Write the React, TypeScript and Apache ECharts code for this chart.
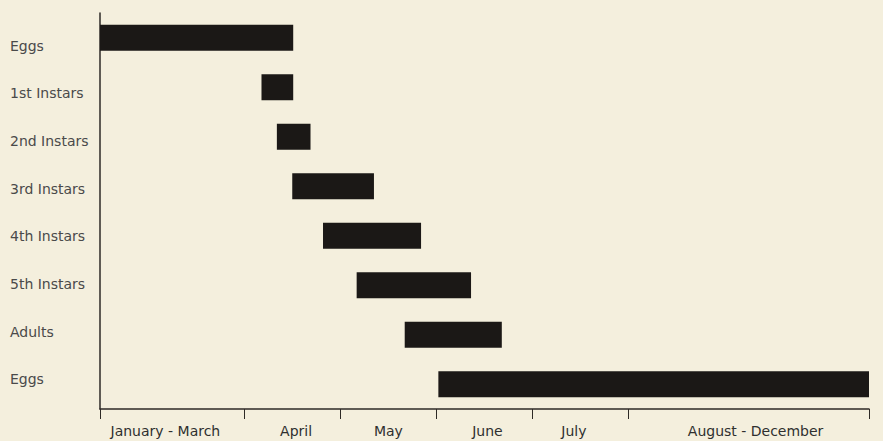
import React, { useEffect, useRef } from "react";
import * as echarts from "echarts";

// Stages (top to bottom)
const stages = ["Eggs", "1st Instars", "2nd Instars", "3rd Instars", "4th Instars", "5th Instars", "Adults", "Eggs"];
// Timeline units: Jan–Mar = 1.5, Apr/May/Jun/Jul = 1 each, Aug–Dec = 2.5
const starts = [0, 1.68, 1.84, 2.0, 2.32, 2.67, 3.17, 3.52];
const ends = [2.01, 2.01, 2.19, 2.85, 3.34, 3.86, 4.18, 8.0];
// Period boundaries (tick values) and period labels
const tickValues = [0, 1.5, 2.5, 3.5, 4.5, 5.5, 8];
const periodLabels = ["January - March", "April", "May", "June", "July", "August - December"];
const periodLabelAt = [0.68, 2.04, 3.0, 4.03, 4.93, 6.82];

export default function App() {
  const ref = useRef<HTMLDivElement>(null);
  useEffect(() => {
    if (!ref.current) return;
    const chart = echarts.init(ref.current, undefined, { renderer: "svg" });
    const font = "'DejaVu Sans', 'Open Sans', sans-serif";
    const durations = ends.map((e, i) => +(e - starts[i]).toFixed(3));
    chart.setOption({
      animation: false,
      backgroundColor: "#f4efdd",
      grid: [
        { left: 100, right: 14, top: 13, bottom: 32 },
        { left: 100, right: 14, top: 22, height: 381 },
      ],
      xAxis: [
        {
          type: "value",
          gridIndex: 0,
          min: 0,
          max: 8,
          splitLine: { show: false },
          axisLine: { show: true, lineStyle: { color: "#2e2a26", width: 1.5 } },
          axisTick: { show: true, customValues: tickValues, length: 10, lineStyle: { color: "#2e2a26", width: 1 } },
          axisLabel: {
            customValues: periodLabelAt,
            formatter: (v: number) => {
              const i = periodLabelAt.findIndex((p) => Math.abs(p - v) < 1e-6);
              return i >= 0 ? periodLabels[i] : "";
            },
            margin: 15,
            color: "#2f2f2f",
            fontFamily: font,
            fontSize: 14,
          },
        },
        { type: "value", gridIndex: 1, min: 0, max: 8, show: false },
      ],
      yAxis: [
        {
          type: "category",
          gridIndex: 0,
          inverse: true,
          data: stages.map((s, i) => s + "#" + i),
          axisLine: { show: true, lineStyle: { color: "#2e2a26", width: 1.5 } },
          axisTick: { show: false },
          axisLabel: { show: false },
          splitLine: { show: false },
        },
        {
          type: "category",
          gridIndex: 1,
          inverse: true,
          data: stages,
          axisLine: { show: false },
          axisTick: { show: false },
          splitLine: { show: false },
          axisLabel: {
            align: "left",
            margin: 90,
            color: "#4a4a4a",
            fontFamily: font,
            fontSize: 14,
          },
        },
      ],
      series: [
        {
          type: "bar",
          stack: "t",
          xAxisIndex: 0,
          yAxisIndex: 0,
          barWidth: 26,
          itemStyle: { color: "transparent" },
          silent: true,
          data: starts,
        },
        {
          type: "bar",
          stack: "t",
          xAxisIndex: 0,
          yAxisIndex: 0,
          barWidth: 26,
          itemStyle: { color: "#1b1816" },
          data: durations,
        },
      ],
    });
    return () => chart.dispose();
  }, []);
  return <div ref={ref} style={{ position: "fixed", left: 0, top: 0, width: 883, height: 441 }} />;
}
